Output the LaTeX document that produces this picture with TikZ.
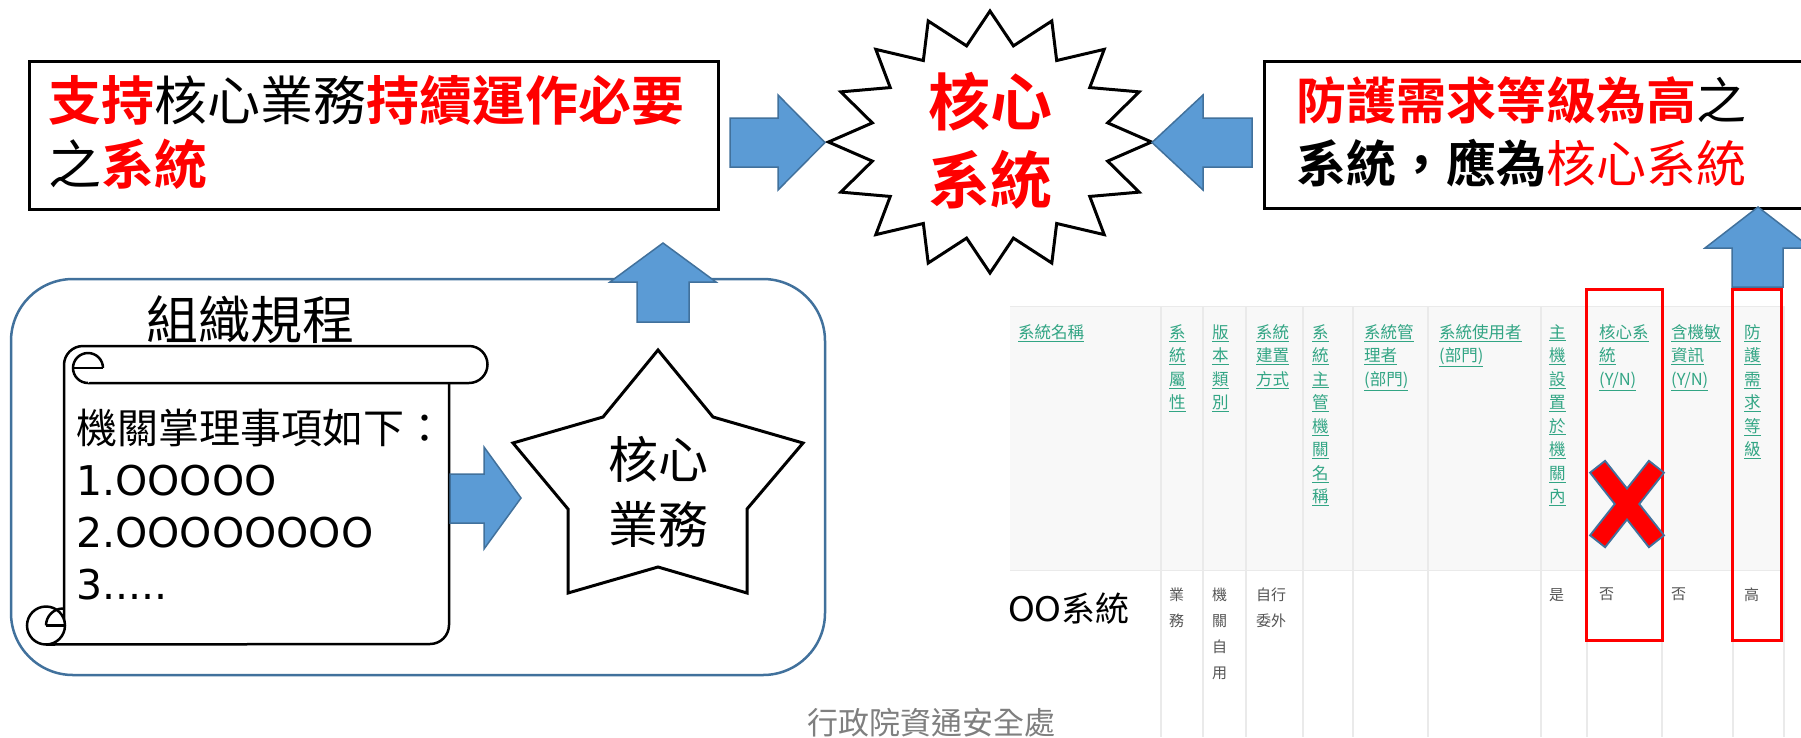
\documentclass[tikz,border=0pt]{standalone}
\usepackage{fontspec}
\setmainfont{Noto Sans CJK TC}[BoldFont={Noto Sans CJK TC Bold}]
\newfontfamily\latinf{DejaVu Sans}
\definecolor{arrowfill}{RGB}{91,155,213}
\definecolor{arrowedge}{RGB}{65,113,156}
\definecolor{rrblue}{RGB}{65,113,156}
\definecolor{hdrgreen}{RGB}{50,165,132}
\definecolor{datagray}{RGB}{85,85,85}
\definecolor{footgray}{RGB}{127,127,127}
\definecolor{tblbg}{RGB}{248,248,248}
\definecolor{tblline}{RGB}{234,234,234}
\newcommand\gu[1]{\underline{#1}}
\begin{document}
\begin{tikzpicture}[x=1pt,y=1pt,yscale=-1,
  blockarrow/.style={fill=arrowfill,draw=arrowedge,line width=1.5pt,line join=miter},
  blackline/.style={draw=black,line width=3pt,line join=miter},
  scrollline/.style={draw=black,line width=2.5pt},
  redbox/.style={draw=red,line width=3pt},
  hdr/.style={anchor=north west,inner sep=0pt,align=left,text=hdrgreen,font=\fontsize{16.5}{23.5}\selectfont},
  dat/.style={anchor=north west,inner sep=0pt,align=left,text=datagray,font=\fontsize{15}{26}\selectfont}]
\useasboundingbox (0,0) rectangle (1801,737);
\clip (0,0) rectangle (1801,737);
\fill[white] (0,0) rectangle (1801,737);

% ---------- table ----------
\fill[tblbg] (1010,306) rectangle (1784,570);
\foreach \xx in {1161,1203,1246,1303,1353,1428,1541,1587,1662,1733,1784}
  \draw[tblline,line width=1.5pt] (\xx,306) -- (\xx,737);
\draw[tblline,line width=1pt] (1010,306) -- (1784,306);
\draw[tblline,line width=1pt] (1010,570) -- (1784,570);

\node[hdr] (h1) at (1018,324) {\gu{系統名稱}};
\node[hdr] (h2) at (1169,324) {\gu{系}\\\gu{統}\\\gu{屬}\\\gu{性}};
\node[hdr] (h3) at (1212,324) {\gu{版}\\\gu{本}\\\gu{類}\\\gu{別}};
\node[hdr] (h4) at (1256,324) {\gu{系統}\\\gu{建置}\\\gu{方式}};
\node[hdr] (h5) at (1312,324) {\gu{系}\\\gu{統}\\\gu{主}\\\gu{管}\\\gu{機}\\\gu{關}\\\gu{名}\\\gu{稱}};
\node[hdr] (h6) at (1364,324) {\gu{系統管}\\\gu{理者}\\\gu{(部門)}};
\node[hdr] (h7) at (1439,324) {\gu{系統使用者}\\\gu{(部門)}};
\node[hdr] (h8) at (1549,324) {\gu{主}\\\gu{機}\\\gu{設}\\\gu{置}\\\gu{於}\\\gu{機}\\\gu{關}\\\gu{內}};
\node[hdr] (h9) at (1599,324) {\gu{核心系}\\\gu{統}\\\gu{(Y/N)}};
\node[hdr] (h10) at (1671,324) {\gu{含機敏}\\\gu{資訊}\\\gu{(Y/N)}};
\node[hdr] (h11) at (1744,324) {\gu{防}\\\gu{護}\\\gu{需}\\\gu{求}\\\gu{等}\\\gu{級}};

\node[anchor=west,inner sep=0pt,font=\fontsize{34}{40}\selectfont] (d1) at (1008,609) {{\latinf OO}系統};
\node[dat] (d2) at (1169,588) {業\\務};
\node[dat] (d3) at (1212,588) {機\\關\\自\\用};
\node[dat] (d4) at (1256,588) {自行\\委外};
\node[dat] (d8) at (1549,588) {是};
\node[dat] (d9) at (1599,588) {否};
\node[dat] (d10) at (1671,588) {否};
\node[dat] (d11) at (1744,588) {高};

\draw[redbox] (1586,289) rectangle (1662,640);
\draw[redbox] (1732,289) rectangle (1781,640);

% red X
\draw[arrowedge,line width=21pt] (1597,466) -- (1657,542) (1657,466) -- (1597,542);
\draw[red,line width=17pt,shorten <=2pt,shorten >=2pt] (1597,466) -- (1657,542);
\draw[red,line width=17pt,shorten <=2pt,shorten >=2pt] (1657,466) -- (1597,542);

% ---------- rounded frame ----------
\draw[draw=rrblue,line width=2.5pt,rounded corners=62pt] (11,279) rectangle (825,675);
\node[inner sep=0pt,font=\fontsize{52}{60}\selectfont] (org) at (250,320) {組織規程};

% scroll
\draw[scrollline,line join=round] (64,627) -- (64,365) arc[start angle=180,end angle=270,radius=19pt] -- (469,346)
   arc[start angle=270,end angle=450,radius=18.5pt] -- (88,383);
\draw[scrollline] (449,383) -- (449,625) arc[start angle=0,end angle=90,radius=19pt] -- (46,644.5);
\draw[scrollline,fill=white] (103,368) arc[start angle=360,end angle=90,radius=15pt];
\draw[scrollline] (74,368) -- (103,368);
\draw[scrollline,fill=white] (46,625.5) circle[radius=19pt];
\draw[scrollline] (46,625.5) -- (64,625.5);
\draw[scrollline] (46,625.5) arc[start angle=180,end angle=270,radius=17pt];
\node[anchor=west,align=left,inner sep=0pt,font=\fontsize{41}{52}\selectfont] (rules) at (76,505)
  {機關掌理事項如下：\\{\latinf 1.OOOOO}\\{\latinf 2.OOOOOOOO}\\{\latinf 3.....}};

% star
\draw[blackline,fill=white] (658,350) -- (713,417) -- (803,443) -- (747,509) -- (747,593) -- (658,567)
  -- (568,593) -- (568,509) -- (513,443) -- (603,417) -- cycle;
\node[align=center,inner sep=0pt,font=\fontsize{50}{65}\selectfont] (biz) at (658,492) {核心\\業務};

% ---------- top boxes ----------
\node[draw=black,line width=3pt,anchor=north west,minimum width=689pt,minimum height=148pt,inner sep=0pt] (lbox) at (28,60) {};
\node[anchor=west,align=left,inner sep=0pt,font=\fontsize{53}{64}\selectfont] (ltext) at (48,132)
  {\textcolor{red}{\bfseries 支持}核心業務\textcolor{red}{\bfseries 持續運作必要}\\之\textcolor{red}{\bfseries 系統}};

\node[draw=black,line width=3pt,anchor=north west,minimum width=600pt,minimum height=147pt,inner sep=0pt] (rbox) at (1263,60) {};
\node[anchor=west,align=left,inner sep=0pt,font=\fontsize{50}{63}\selectfont] (rtext) at (1296,132)
  {\textcolor{red}{\bfseries 防護需求等級為高}之\\{\bfseries 系統，應為}\textcolor{red}{核心系統}};

% starburst
\draw[blackline,fill=white] (990,11)
  \foreach \k in {0,...,15} {
    -- ({990+120*cos(-90+22.5*\k+11.25)},{142+98*sin(-90+22.5*\k+11.25)})
    -- ({990+161.5*cos(-90+22.5*(\k+1))},{142+131*sin(-90+22.5*(\k+1))})
  } -- cycle;
\node[align=center,inner sep=0pt,text=red,font=\fontsize{62}{78}\bfseries\selectfont] (core) at (990,141) {核心\\系統};

% ---------- block arrows ----------
\draw[blockarrow] (730,118) -- (778,118) -- (778,95) -- (825,142.5) -- (778,190) -- (778,167) -- (730,167) -- cycle;
\draw[blockarrow] (1252,118) -- (1203,118) -- (1203,95) -- (1152,142.5) -- (1203,190) -- (1203,167) -- (1252,167) -- cycle;
\draw[blockarrow] (637,322) -- (637,282) -- (610,282) -- (663,243) -- (716,282) -- (689,282) -- (689,322) -- cycle;
\draw[blockarrow] (450,474) -- (484,474) -- (484,447) -- (521,498) -- (484,549) -- (484,523) -- (450,523) -- cycle;
\draw[blockarrow] (1732,287) -- (1732,248) -- (1705,248) -- (1758,207) -- (1811,248) -- (1783,248) -- (1783,287) -- cycle;

% footer
\node[inner sep=0pt,text=footgray,font=\fontsize{31}{36}\selectfont] (foot) at (931,723) {行政院資通安全處};
\end{tikzpicture}
\end{document}
